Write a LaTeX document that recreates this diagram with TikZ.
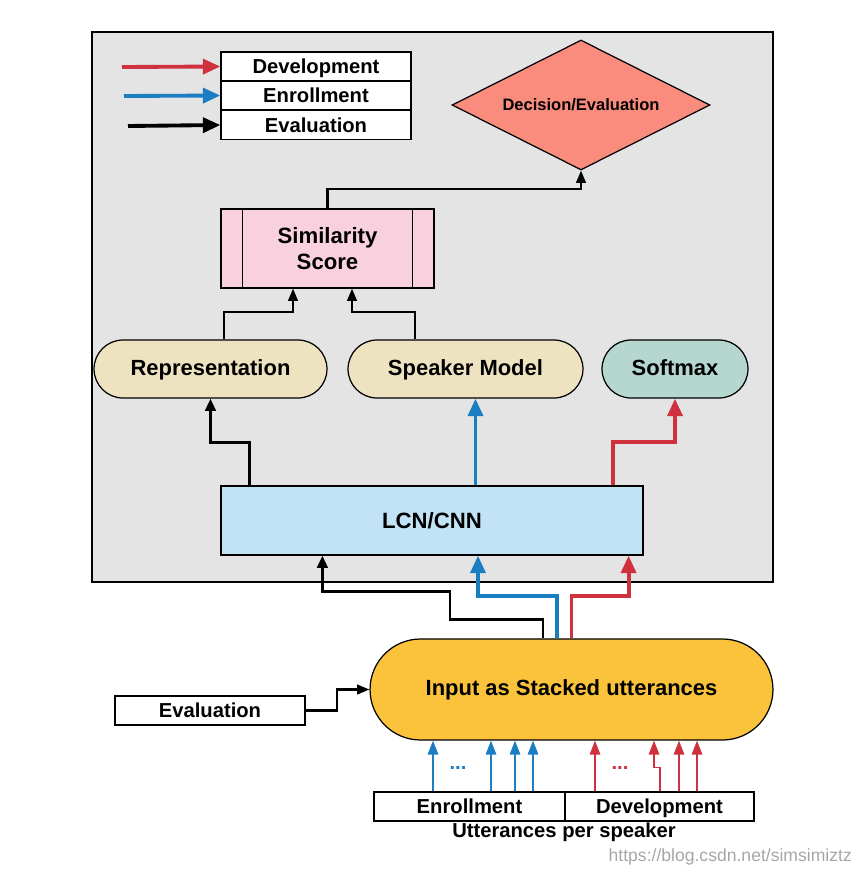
\documentclass[tikz,border=0pt]{standalone}
\usepackage{fontspec}
\setmainfont{Liberation Sans}
\usetikzlibrary{shapes.geometric,shapes.misc,arrows.meta,calc}

\definecolor{panelgray}{HTML}{E4E4E4}
\definecolor{decisionred}{HTML}{FA8C7E}
\definecolor{simpink}{HTML}{F9D1DE}
\definecolor{reprtan}{HTML}{EEE3C1}
\definecolor{softgreen}{HTML}{B6D7D0}
\definecolor{lcnblue}{HTML}{C2E3F5}
\definecolor{inputyellow}{HTML}{FBC33B}
\definecolor{devred}{HTML}{D0313E}
\definecolor{enrblue}{HTML}{1B7EC2}

\begin{document}
\begin{tikzpicture}[x=0.02cm,y=-0.02cm,font=\bfseries\fontsize{11.5}{13}\selectfont]
    % `label box' is used for the plain white text boxes.
    % `pill' is used for the rounded (stadium) nodes.
    % `thickarr' and `thinarr' are the two kinds of connectors.
    \tikzstyle{labelbox} = [draw,fill=white,line width=0.7pt,minimum height=0.58cm,inner sep=0pt,text height=1.6ex,text depth=0.05ex]
    \tikzstyle{pill} = [draw,line width=0.7pt,rounded rectangle,inner sep=0pt,minimum height=1.16cm,
                        text height=1.6ex,text depth=0.3ex,font=\bfseries\fontsize{12.5}{14}\selectfont]
    \tikzstyle{thickarr} = [line width=2.2pt,-{Triangle[length=10pt,width=8.5pt]}]
    \tikzstyle{midarr} = [line width=1.6pt,-{Triangle[length=7pt,width=6pt]}]
    \tikzstyle{thinarr} = [line width=1.2pt,-{Triangle[length=7pt,width=5.5pt]}]
    \tikzstyle{feedarr} = [line width=0.9pt,-{Triangle[length=8pt,width=6pt]}]
    %
    \useasboundingbox (0,0) rectangle (862,876);
    % Draw background panel.
    \draw[fill=panelgray,line width=1.5pt] (92,32) rectangle (773,582);
    %
    % Legend.
    \node[labelbox,minimum width=3.8cm] (legdev) at (316,66.5) {Development};
    \node[labelbox,minimum width=3.8cm] (legenr) at (316,95.5) {Enrollment};
    \node[labelbox,minimum width=3.8cm] (legeval) at (316,125) {Evaluation};
    \coordinate (legdevstart) at (122,67);
    \coordinate (legenrstart) at (124,96);
    \coordinate (legevalstart) at (128,126);
    \draw[thickarr,devred] (legdevstart) -- (legdev.west);
    \draw[thickarr,enrblue] (legenrstart) -- (legenr.west);
    \draw[thickarr,black] (legevalstart) -- (legeval.west);
    %
    % Nodes inside the panel.
    \node[draw,fill=decisionred,line width=0.7pt,diamond,aspect=2,inner sep=0pt,
          minimum width=5.16cm,minimum height=2.6cm,
          font=\bfseries\fontsize{9.4}{11}\selectfont] (decision) at (581,105) {Decision/Evaluation};
    \node[draw,fill=simpink,line width=0.7pt,minimum width=4.26cm,minimum height=1.58cm,
          align=center,font=\bfseries\fontsize{12.6}{15}\selectfont] (sim) at (327.5,248.5) {Similarity\\Score};
    \draw[line width=0.7pt] ([xshift=0.44cm]sim.north west) -- ([xshift=0.44cm]sim.south west);
    \draw[line width=0.7pt] ([xshift=-0.44cm]sim.north east) -- ([xshift=-0.44cm]sim.south east);
    \node[pill,fill=reprtan,minimum width=4.66cm] (repr) at (210.5,369) {Representation};
    \node[pill,fill=reprtan,minimum width=4.7cm] (spk) at (465.5,369) {Speaker Model};
    \node[pill,fill=softgreen,minimum width=2.92cm] (soft) at (675,369) {Softmax};
    \node[draw,fill=lcnblue,line width=0.7pt,minimum width=8.44cm,minimum height=1.38cm,
          font=\bfseries\fontsize{12.6}{15}\selectfont] (lcn) at (432,520.5) {LCN/CNN};
    %
    % Nodes below the panel.
    \node[pill,fill=inputyellow,minimum width=8.06cm,minimum height=2.02cm] (input) at (571.5,689.5) {Input as Stacked utterances};
    \node[labelbox,minimum width=3.8cm] (evalbox) at (210,710.5) {Evaluation};
    \node[labelbox,minimum width=3.82cm] (enr) at (469.5,806.5) {Enrollment};
    \node[labelbox,minimum width=3.78cm] (dev) at (659.5,806.5) {Development};
    \node (utt) at (564,832) {Utterances per speaker};
    \node[enrblue] (enrdots) at (458,768) {...};
    \node[devred] (devdots) at (620,768) {...};
    \node[gray!70,font=\fontsize{10}{12}\selectfont,anchor=east] (mark) at (858,857) {https://blog.csdn.net/simsimiztz};
    %
    % Draw connectors inside the panel.
    \draw[thinarr] (sim.north) -- ++(0,-19) -| (decision.south);
    \draw[thinarr] ([xshift=0.27cm]repr.north) -- ++(0,-27) -| ([xshift=-0.69cm]sim.south);
    \draw[thinarr] ([xshift=-1.01cm]spk.north) -- ++(0,-27) -| ([xshift=0.49cm]sim.south);
    \coordinate (spkin) at ([xshift=0.2cm]spk.south);
    \draw[midarr] ([xshift=0.58cm]lcn.north west) -- ++(0,-43) -| (repr.south);
    \draw[thickarr,enrblue] (spkin |- lcn.north) -- (spkin);
    \draw[thickarr,devred] ([xshift=-0.62cm]lcn.north east) -- ++(0,-43) -| (soft.south);
    %
    % Draw connectors from the input to LCN/CNN.
    \draw[midarr] ([xshift=-0.57cm]input.north) -- ++(0,-19) -| ++(-93,-28) -| ([xshift=2.04cm]lcn.south west);
    \draw[thickarr,enrblue] ([xshift=-0.29cm]input.north) -- ++(0,-42) -| ([xshift=0.92cm]lcn.south);
    \draw[thickarr,devred] (input.north) -- ++(0,-42) -| ([xshift=-0.3cm]lcn.south east);
    \draw[thinarr] (evalbox.east) -- ++(31,0) |- (input.west);
    %
    % Draw utterance connectors.
    \foreach \x in {433,491,515,533}
        \draw[feedarr,enrblue] (enr.north -| \x,0) -- (input.south -| \x,0);
    \foreach \x in {595,679,697}
        \draw[feedarr,devred] (dev.north -| \x,0) -- (input.south -| \x,0);
    \draw[feedarr,devred] (dev.north -| 660,0) |- ++(-6,-24) -- (input.south -| 654,0);
\end{tikzpicture}
\end{document}
